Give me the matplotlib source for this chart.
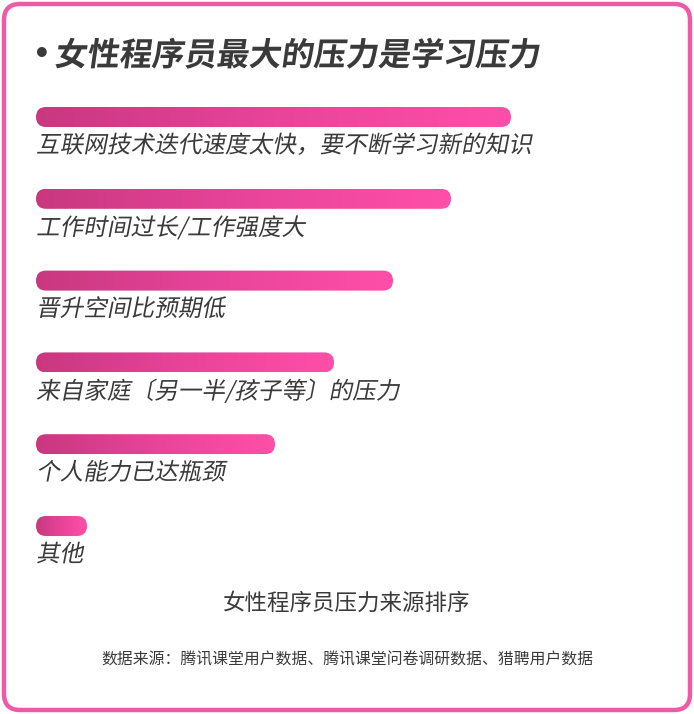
import numpy as np
import matplotlib.pyplot as plt
from matplotlib.patches import FancyBboxPatch
from matplotlib.colors import LinearSegmentedColormap
from matplotlib.patheffects import AbstractPathEffect
from matplotlib.transforms import Affine2D

plt.rcParams['font.family'] = ['Noto Sans CJK SC', 'DejaVu Sans']

# 数据
categories = ['互联网技术迭代速度太快，要不断学习新的知识',
              '工作时间过长/工作强度大',
              '晋升空间比预期低',
              '来自家庭〔另一半/孩子等〕的压力',
              '个人能力已达瓶颈',
              '其他']
values = [95, 83, 71.4, 59.6, 47.8, 10.2]   # 相对长度（无具体数值）

title = '女性程序员最大的压力是学习压力'
subtitle = '女性程序员压力来源排序'
source = '数据来源：腾讯课堂用户数据、腾讯课堂问卷调研数据、猎聘用户数据'

W, H = 694, 714
text_col = '#3a3a3a'
border_col = '#ee5aa8'
cmap = LinearSegmentedColormap.from_list('pink', ['#c8387f', '#e8449a', '#ff4fa8'])


class Slant(AbstractPathEffect):
    # 伪斜体：在文字本地坐标里做错切
    def __init__(self, deg=12):
        super().__init__()
        self.deg = deg

    def draw_path(self, renderer, gc, tpath, affine, rgbFace=None):
        renderer.draw_path(gc, tpath, Affine2D().skew_deg(self.deg, 0) + affine, rgbFace)


fig = plt.figure(figsize=(W / 100, H / 100), dpi=100)

# 背景+边框（像素坐标）
bg = fig.add_axes([0, 0, 1, 1])
bg.set_xlim(0, W)
bg.set_ylim(H, 0)
bg.axis('off')
bg.add_patch(FancyBboxPatch((4, 4), W - 8, H - 8,
                            boxstyle='round,pad=0,rounding_size=16',
                            facecolor='white', edgecolor=border_col, linewidth=3.2))

# 条形图区域
row_px = 81.8
n = len(categories)
ax_top, ax_left, ax_w = 117 - row_px / 2, 36, 500
ax_h = row_px * n
ax = fig.add_axes([ax_left / W, 1 - (ax_top + ax_h) / H, ax_w / W, ax_h / H])
ax.set_xlim(0, 100)
ax.set_ylim(n - 0.5, -0.5)
ax.axis('off')

bar_h = 20 / row_px
x_per_px = 100 / ax_w
y_per_px = 1 / row_px
radius = 10 * x_per_px
aspect = y_per_px / x_per_px
grad = np.linspace(0, 1, 256).reshape(1, -1)

for i, (cat, v) in enumerate(zip(categories, values)):
    patch = FancyBboxPatch((0, i - bar_h / 2), v, bar_h,
                           boxstyle=f'round,pad=0,rounding_size={radius}',
                           mutation_aspect=aspect, facecolor='none', edgecolor='none')
    ax.add_patch(patch)
    im = ax.imshow(grad, cmap=cmap, aspect='auto',
                   extent=(0, v, i + bar_h / 2, i - bar_h / 2), interpolation='bilinear')
    im.set_clip_path(patch)
    ax.text(0, i + 29 / row_px, cat, fontsize=17, color=text_col,
            ha='left', va='center', path_effects=[Slant(11)])

ax.set_xlim(0, 100)
ax.set_ylim(n - 0.5, -0.5)

# 标题：圆点单独画，间距更紧
fig.text(42 / W, 1 - 55 / H, '•', fontsize=20, fontweight='bold', color=text_col,
         ha='center', va='center', family='DejaVu Sans')
fig.text(54 / W, 1 - 56 / H, title, fontsize=23.3, fontweight='bold', color=text_col,
         ha='left', va='center', path_effects=[Slant(8)])
fig.text(0.5, 1 - 603 / H, subtitle, fontsize=16.2, color=text_col, ha='center', va='center')
fig.text(0.5, 1 - 660 / H, source, fontsize=11.4, color=text_col, ha='center', va='center')

fig.savefig('out.png', dpi=100)
